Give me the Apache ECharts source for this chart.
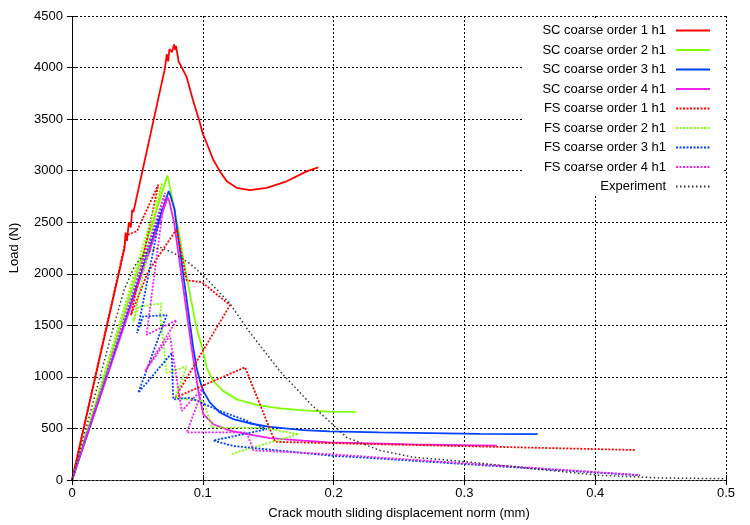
<!DOCTYPE html>
<html><head><meta charset="utf-8">
<script src="https://cdn.jsdelivr.net/npm/echarts@6/dist/echarts.min.js"></script>
<style>html,body{margin:0;padding:0;background:#fff}#c{width:750px;height:525px}</style>
</head><body><div id="c"></div>
<script>
const seriesNames = ['SC coarse order 1 h1','SC coarse order 2 h1','SC coarse order 3 h1','SC coarse order 4 h1',
  'FS coarse order 1 h1','FS coarse order 2 h1','FS coarse order 3 h1','FS coarse order 4 h1','Experiment'];

const sc1 = [[0,0],[0.040,2240],[0.041,2400],[0.042,2320],[0.0435,2500],[0.045,2450],[0.046,2620],[0.047,2600],[0.071,3990],[0.0725,4130],[0.0735,4060],[0.0745,4180],[0.0765,4150],[0.078,4225],[0.079,4170],[0.0795,4210],[0.0815,4060],[0.0877,3907],[0.0925,3683],[0.0979,3459],[0.0999,3363],[0.103,3266],[0.108,3106],[0.1131,2993],[0.1183,2897],[0.1259,2834],[0.1361,2811],[0.1489,2834],[0.1641,2897],[0.1794,2993],[0.1883,3032]];
const sc2 = [[0,0],[0.0729,2952],[0.0745,2865],[0.076,2881],[0.0787,2593],[0.0813,2433],[0.0851,2144],[0.0889,1888],[0.0915,1718],[0.0953,1471],[0.0996,1279],[0.103,1087],[0.108,959],[0.1157,862],[0.1259,782],[0.1412,728],[0.159,695],[0.1768,676],[0.197,663],[0.217,660]];
const sc3 = [[0,0],[0.0739,2801],[0.0755,2750],[0.0785,2620],[0.079,2560],[0.0927,1279],[0.0953,1087],[0.0979,959],[0.1004,862],[0.1055,750],[0.1131,654],[0.1233,590],[0.1361,548],[0.1514,516],[0.1768,484],[0.197,471],[0.235,461],[0.312,447],[0.356,445]];
const sc4 = [[0,0],[0.0731,2740],[0.0745,2700],[0.078,2500],[0.0915,1279],[0.0966,862],[0.1004,638],[0.108,541],[0.1208,478],[0.1361,439],[0.1514,407],[0.1768,381],[0.197,365],[0.26,345],[0.325,333]];
const fs1 = [[0,0],[0.042,2375],[0.0497,2413],[0.066,2865],[0.0451,1599],[0.0581,2019],[0.08,2433],[0.0877,1936],[0.0991,1920],[0.1208,1695],[0.0787,798],[0.1323,1093],[0.1552,370],[0.4304,291]];
const fs2 = [[0,0],[0.0688,2880],[0.0469,1535],[0.0507,1680],[0.0686,1711],[0.0673,1615],[0.0724,1038],[0.0877,1103],[0.079,800],[0.1004,766],[0.107,510],[0.146,505],[0.1731,445],[0.1224,253]];
const fs3 = [[0,0],[0.0688,2654],[0.0497,1423],[0.0543,1586],[0.0724,1599],[0.0507,846],[0.0762,1231],[0.0774,782],[0.0902,798],[0.1131,670],[0.1336,574],[0.1488,493],[0.108,382],[0.1233,330],[0.1972,237],[0.2508,195],[0.4343,45]];
const fs4 = [[0,0],[0.0711,2785],[0.057,1407],[0.08,1551],[0.0558,1054],[0.0749,1400],[0.0839,670],[0.1004,894],[0.0877,461],[0.1336,461],[0.1386,288],[0.1972,250],[0.4343,48]];
const expData = [[0,0],[0.0107,500],[0.0214,1000],[0.031,1450],[0.040,1850],[0.048,2080],[0.056,2200],[0.0673,2257],[0.078,2200],[0.09,2100],[0.1004,1984],[0.1208,1711],[0.1336,1471],[0.159,1055],[0.183,730],[0.21,413],[0.2355,286],[0.261,221],[0.299,180],[0.3527,109],[0.4037,45],[0.45,20],[0.498,13]];

const FONT = '"Liberation Sans", Arial, Helvetica, sans-serif';
const colors = ['#ff0000','#7fff00','#0040ff','#ee22ee','#ff0000','#7fff00','#0040ff','#ee22ee','#333333'];
const dataSets = [sc1,sc2,sc3,sc4,fs1,fs2,fs3,fs4,expData];

const chart = echarts.init(document.getElementById('c'));
const series = dataSets.map((d,i)=>({
  name: seriesNames[i], type:'line', data:d, symbol:'none', showSymbol:false, animation:false,
  xAxisIndex:0, yAxisIndex:0,
  lineStyle:{color:colors[i], width: i<8 ? 1.8 : 1.5, type: i<4 ? 'solid' : (i<8 ? [2,1.5] : [1.5,2.5])},
  itemStyle:{color:colors[i]}, z: 3
}));
const legends = seriesNames.map((n,i)=>({
  data:[n], orient:'vertical', right:39, top: 24 + i*19.5, padding:0, align:'right',
  itemWidth:34, itemHeight:14, selectedMode:false, z:10,
  itemStyle:{opacity:0, borderWidth:0},
  textStyle:{fontSize:13, fontFamily:FONT, color:'#000', padding:[0,5,0,0]}
}));
const dotted = {color:'#000', width:1, type:[2,2]};
chart.setOption({
  backgroundColor:'#fff',
  animation:false,
  grid:{left:72, right:24, top:16, bottom:42},
  legend: legends,
  graphic:[{type:'rect', left:523, top:18, shape:{width:199, height:178}, style:{fill:'#fff'}, z:1}],
  xAxis:[{
    type:'value', min:0, max:0.5, interval:0.1, position:'bottom', z:0,
    name:'Crack mouth sliding displacement norm (mm)', nameLocation:'middle', nameGap:27,
    nameTextStyle:{fontSize:13, fontFamily:FONT, color:'#000'},
    axisLine:{show:true, lineStyle:dotted}, axisTick:{show:true, inside:true, length:5, lineStyle:{color:'#000'}},
    axisLabel:{fontSize:13, fontFamily:FONT, color:'#000', margin:7, formatter:v=>String(+v.toFixed(1))},
    splitLine:{show:true, lineStyle:dotted}
  },{
    type:'value', min:0, max:0.5, interval:0.1, position:'top', z:5,
    axisLine:{show:true, lineStyle:dotted}, axisTick:{show:true, inside:true, length:5, lineStyle:{color:'#000'}},
    axisLabel:{show:false}, splitLine:{show:false}
  }],
  yAxis:[{
    type:'value', min:0, max:4500, interval:500, position:'left', z:0,
    name:'Load (N)', nameLocation:'middle', nameGap:51, nameRotate:90,
    nameTextStyle:{fontSize:13, fontFamily:FONT, color:'#000'},
    axisLine:{show:true, lineStyle:dotted}, axisTick:{show:true, inside:true, length:5, lineStyle:{color:'#000'}},
    axisLabel:{fontSize:13, fontFamily:FONT, color:'#000', margin:9, formatter:v=>String(v)},
    splitLine:{show:true, lineStyle:dotted}
  },{
    type:'value', min:0, max:4500, interval:500, position:'right', z:5,
    axisLine:{show:true, lineStyle:dotted}, axisTick:{show:true, inside:true, length:5, lineStyle:{color:'#000'}},
    axisLabel:{show:false}, splitLine:{show:false}
  }],
  series: series
});
</script></body></html>
